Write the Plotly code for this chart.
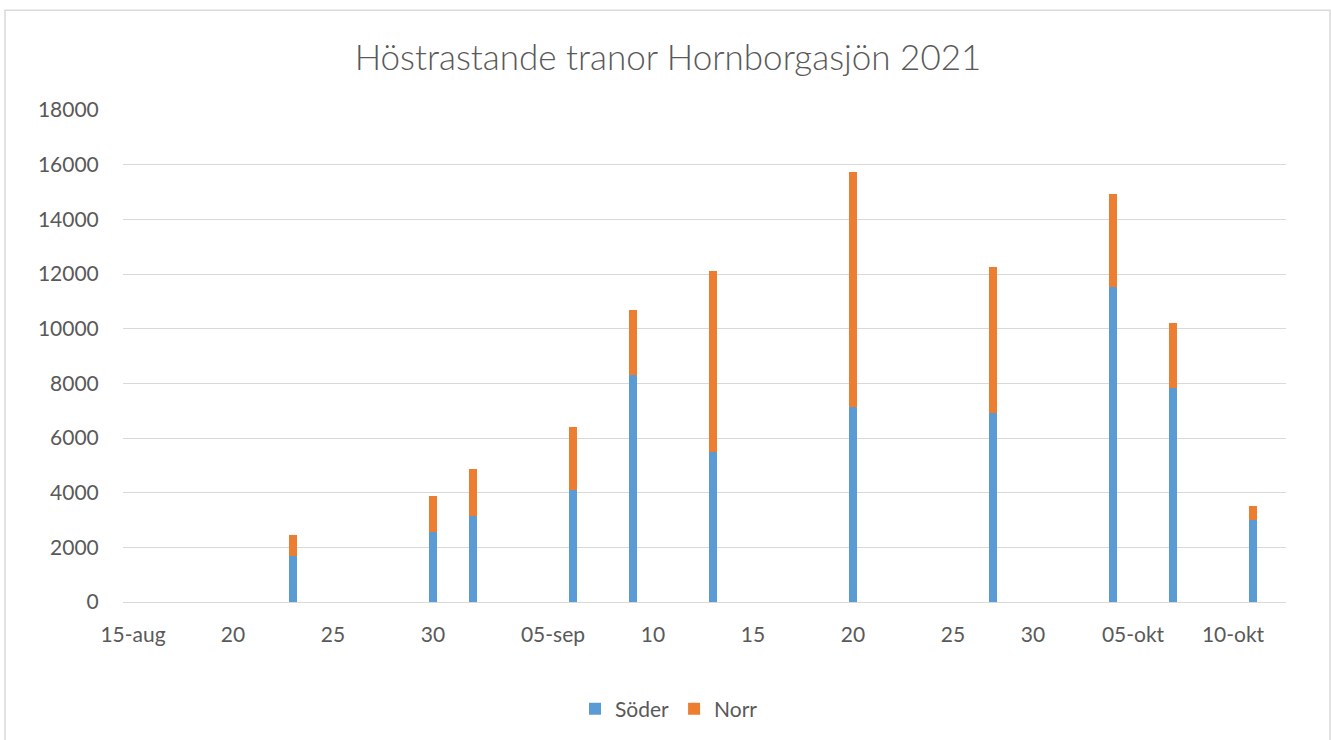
import plotly.graph_objects as go

dates = ["2021-08-23", "2021-08-30", "2021-09-01", "2021-09-06", "2021-09-09",
         "2021-09-13", "2021-09-20", "2021-09-27", "2021-10-03", "2021-10-06",
         "2021-10-10"]
soder = [1690, 2560, 3140, 4110, 8320, 5500, 7150, 6900, 11520, 7820, 3000]
norr_total = [2460, 3880, 4850, 6400, 10690, 12100, 15750, 12270, 14920, 10200, 3500]
norr = [t - s for t, s in zip(norr_total, soder)]

tick_dates = ["2021-08-15", "2021-08-20", "2021-08-25", "2021-08-30", "2021-09-05",
              "2021-09-10", "2021-09-15", "2021-09-20", "2021-09-25", "2021-09-29",
              "2021-10-04", "2021-10-09"]
tick_text = ["15-aug", "20", "25", "30", "05-sep", "10", "15", "20", "25", "30",
             "05-okt", "10-okt"]
y_ticks = list(range(0, 18001, 2000))
y_text = [str(v) for v in y_ticks]

FONT = "Lato"
GREY = "#595959"
BAR_W = 0.4 * 86400000

fig = go.Figure()
fig.add_trace(go.Bar(x=dates, y=soder, name="Söder", width=BAR_W,
                     marker=dict(color="#5B9BD5", line=dict(width=0))))
fig.add_trace(go.Bar(x=dates, y=norr, name="Norr", width=BAR_W,
                     marker=dict(color="#ED7D31", line=dict(width=0))))

fig.update_layout(
    barmode="stack",
    width=1331, height=740,
    margin=dict(l=123, r=45, t=110, b=137),
    paper_bgcolor="white", plot_bgcolor="white",
    font=dict(family=FONT, color=GREY, size=21),
    title=dict(text="Höstrastande tranor Hornborgasjön 2021",
               x=668 / 1331, xref="container", xanchor="center",
               y=1 - 58 / 740, yref="container", yanchor="middle",
               font=dict(family=FONT, size=35, color=GREY, weight=300)),
    legend=dict(orientation="h", x=(669 - 123) / 1163, xanchor="center",
                y=-(709 - 603) / 493, yanchor="middle",
                font=dict(size=21, color=GREY), traceorder="normal"),
    showlegend=True,
    bargap=0,
)
fig.update_xaxes(type="date", range=["2021-08-14 12:00", "2021-10-11 15:36"],
                 tickmode="array", tickvals=tick_dates, ticktext=tick_text,
                 showgrid=False, showline=False, ticks="", zeroline=False,
                 ticklabelstandoff=18, tickfont=dict(size=21, color=GREY))
fig.update_yaxes(range=[0, 18000], tickmode="array", tickvals=y_ticks,
                 ticktext=y_text,
                 showgrid=True, gridcolor="#d9d9d9", gridwidth=1.3,
                 zeroline=True, zerolinecolor="#d9d9d9", zerolinewidth=1.3,
                 showline=False, ticks="outside", ticklen=19,
                 tickcolor="rgba(0,0,0,0)",
                 tickfont=dict(size=21, color=GREY))
fig.add_shape(type="rect", xref="paper", yref="paper",
              x0=(5 - 123) / 1163, x1=(1330 - 123) / 1163,
              y0=(603 - 760) / 493, y1=(603 - 10) / 493,
              line=dict(color="#d9d9d9", width=1.5), fillcolor="rgba(0,0,0,0)",
              layer="below")

fig.write_html("out.html", config={"displayModeBar": False},
               post_script="document.body.style.margin='0';document.body.style.overflow='hidden';")
